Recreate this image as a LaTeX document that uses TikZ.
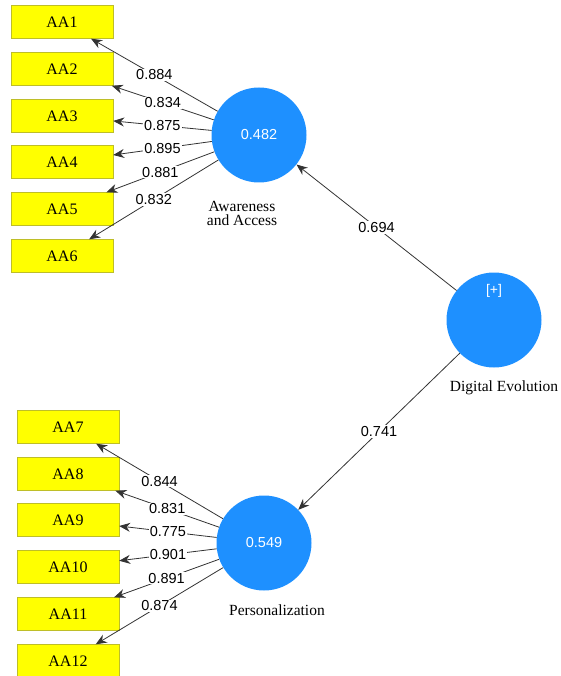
\documentclass[tikz,border=0pt]{standalone}
\usepackage{fontspec}
\setmainfont{Liberation Serif}
\setsansfont{Liberation Sans}
\usetikzlibrary{arrows,arrows.meta,shapes,positioning}

\definecolor{lvblue}{RGB}{30,144,255}
\definecolor{mvyellow}{RGB}{255,255,0}
\definecolor{mvedge}{RGB}{190,190,40}

\tikzset{
  indbox/.style={rectangle, draw=mvedge, fill=mvyellow, minimum width=102pt, minimum height=33pt, inner sep=0pt, font=\fontsize{16}{18}\selectfont},
  latent/.style={circle, fill=lvblue, minimum size=95pt, inner sep=0pt, text=white, font=\sffamily\fontsize{14.5}{16}\selectfont},
  lvname/.style={align=center, font=\fontsize{15.5}{17}\selectfont},
  coef/.style={fill=white, inner sep=1pt, font=\sffamily\fontsize{14.5}{16}\selectfont},
  link/.style={-{Stealth[length=11pt, width=9pt]}, draw=black!80, line width=0.8pt}
}

\begin{document}
\begin{tikzpicture}[x=1pt, y=-1pt]
  \useasboundingbox (0,0) rectangle (561,676);

  % latent variables
  \node[latent] (AW) at (259,135) {0.482};
  \node[latent] (PE) at (264,543) {0.549};
  \node[latent] (DE) at (494,320) {};
  \node[text=white, font=\sffamily\fontsize{14}{16}\selectfont] (DEplus) at (494,291) {[+]};
  \node[lvname] (AWname) at (242,213) {Awareness\\[-3pt]and Access};
  \node[lvname] (PEname) at (277,610) {Personalization};
  \node[lvname] (DEname) at (504,388) {Digital Evolution};

  % indicators
  \node[indbox] (AA1) at (62,22) {AA1};
  \node[indbox] (AA2) at (62,69) {AA2};
  \node[indbox] (AA3) at (62,116) {AA3};
  \node[indbox] (AA4) at (62,162) {AA4};
  \node[indbox] (AA5) at (62,209) {AA5};
  \node[indbox] (AA6) at (62,256) {AA6};
  \node[indbox] (AA7) at (68,427) {AA7};
  \node[indbox] (AA8) at (68,474) {AA8};
  \node[indbox] (AA9) at (68,520) {AA9};
  \node[indbox] (AA10) at (68,567) {AA10};
  \node[indbox] (AA11) at (68,614) {AA11};
  \node[indbox] (AA12) at (68,661) {AA12};

  % paths
  \draw[link] (DE) -- (AW);
  \draw[link] (DE) -- (PE);
  \foreach \i in {1,...,6} \draw[link] (AW) -- (AA\i);
  \foreach \i in {7,...,12} \draw[link] (PE) -- (AA\i);

  % coefficients and loadings
  \path (DE) -- node[coef] (c1) {0.694} (AW);
  \path (DE) -- node[coef] (c2) {0.741} (PE);
  \foreach \i/\v in {1/0.884, 2/0.834, 3/0.875, 4/0.895, 5/0.881, 6/0.832}
    \path (AW) -- node[coef] (l\i) {\v} (AA\i);
  \foreach \i/\v in {7/0.844, 8/0.831, 9/0.775, 10/0.901, 11/0.891, 12/0.874}
    \path (PE) -- node[coef] (l\i) {\v} (AA\i);
\end{tikzpicture}
\end{document}
